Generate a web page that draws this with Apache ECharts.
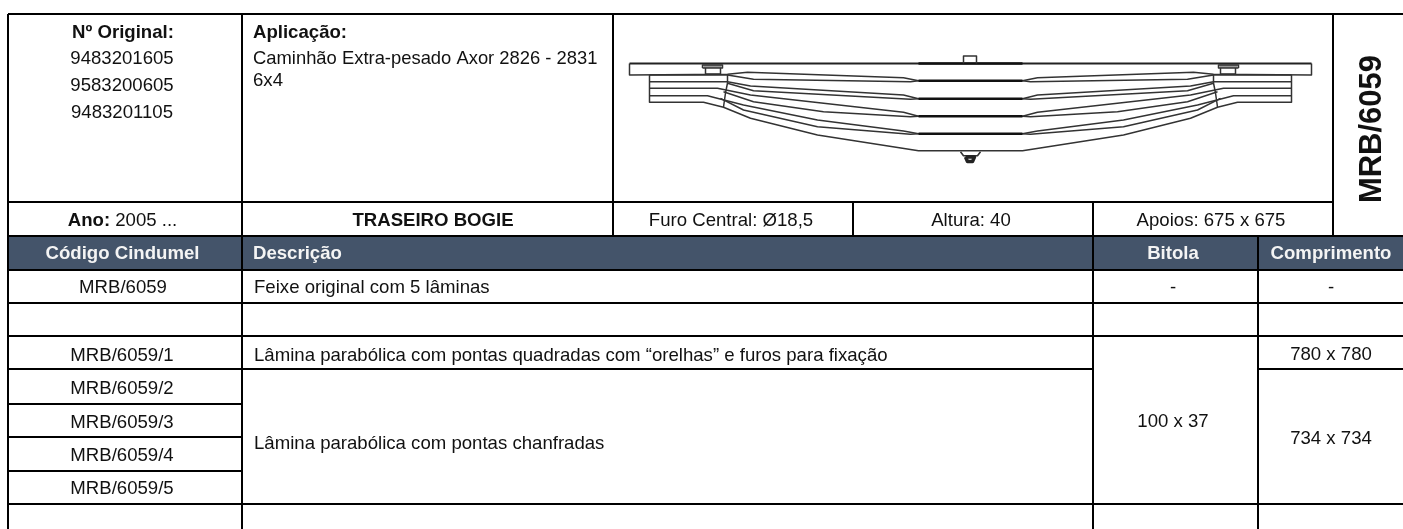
<!DOCTYPE html>
<html>
<head>
<meta charset="utf-8">
<title>MRB/6059</title>
<style>
  html, body { margin: 0; padding: 0; background: #fff; }
  #chart { width: 1403px; height: 529px; }
</style>
<script src="https://cdn.jsdelivr.net/npm/echarts@6/dist/echarts.min.js"></script>
</head>
<body>
<div id="chart"></div>
<script>
/* ── Table content ── */
const originalNumbers = ['9483201605', '9583200605', '9483201105'];
const applicationLines = ['Caminhão Extra-pesado Axor 2826 - 2831', '6x4'];
const partCode = 'MRB/6059';
const specs = ['Furo Central: Ø18,5', 'Altura: 40', 'Apoios: 675 x 675'];
const headers = ['Código Cindumel', 'Descrição', 'Bitola', 'Comprimento'];
const codes = ['MRB/6059', '', 'MRB/6059/1', 'MRB/6059/2', 'MRB/6059/3', 'MRB/6059/4', 'MRB/6059/5'];
const descriptions = [
    'Feixe original com 5 lâminas',
    'Lâmina parabólica com pontas quadradas com “orelhas” e furos para fixação',
    'Lâmina parabólica com pontas chanfradas',
];
const gauges = ['-', '100 x 37'];
const lengths = ['-', '780 x 780', '734 x 734'];

/* ── Spring profile: [distance from centre, depth], left side, mirrored when drawn ── */
const plateEdge = [[341, 13.5], [341, 25], [243, 24.3], [223, 22.3], [67, 27.7], [52, 30.7], [0, 30.7]];
const leaf2Top = [[321, 25], [243, 25], [217, 29.3], [60, 31.7], [52, 30.7]];
const leaf2Bottom = [[321, 31.7], [243, 31.7], [220, 36], [67, 45], [52, 48.7], [0, 48.7]];
const leaf3Top = [[243, 33.3], [217, 40.7], [60, 49.3], [52, 48.7]];
const leaf3Bottom = [[321, 38.3], [253, 38.3], [220, 45], [67, 62.3], [52, 66.3], [0, 66.3]];
const leaf4Top = [[247, 41.7], [217, 51.7], [147, 61.7], [60, 66.7], [52, 66.3]];
const leaf4Bottom = [[321, 45.7], [263, 45.7], [227, 55], [153, 70], [67, 81], [52, 83.7], [0, 83.7]];
const leaf5Top = [[250, 48.3], [227, 60], [153, 76.7], [60, 84.3], [52, 83.7]];
const leaf5Bottom = [[321, 25], [321, 52.3], [267, 52.3], [247, 57.3], [220, 68.3], [153, 85], [52, 100.7], [0, 100.7]];
const clipLine = [[243, 25], [243, 33], [245, 43], [247, 57]];
const boltHead = [[268, 18], [268, 15], [248, 15], [248, 18], [268, 18]];
const boltFill = [[267, 16.5], [249, 16.5]];
const boltStem = [[265, 18], [265, 24], [250, 24], [250, 18]];
const topPlateLine = [[341, 13.5], [0, 13.5]];
const centreBands = [[[52, 13.5], [0, 13.5]], [[52, 30.7], [0, 30.7]], [[52, 48.7], [0, 48.7]], [[52, 66.3], [0, 66.3]], [[52, 83.7], [0, 83.7]]];
const topBolt = [[-7, 13.5], [-7, 6], [6, 6], [6, 13.5]];
const nutWasher = [[-10, 101.7], [-7, 105.7], [7, 105.7], [10, 101.7]];
const nutBody = [[-5, 107], [-3, 111.5], [2, 111.5], [4, 107], [-5, 107]];
const profiles = [plateEdge, leaf2Top, leaf2Bottom, leaf3Top, leaf3Bottom, leaf4Top, leaf4Bottom, leaf5Top, leaf5Bottom, clipLine, boltHead, boltStem];

/* ── Table layout ── */
const COL = { a: 8, b: 242, c: 613, d: 853, e: 1093, f: 1258, g: 1333, end: 1403 };
const ROW = { top: 14, spec: 202, head: 236, body: 270, r1: 303, r2: 336, r3: 369, r4: 404, r5: 437, r6: 471, r7: 504, end: 529 };
const INK = '#111';
const HEADER_BG = '#44546A';
const FONT = '"Liberation Sans", Arial, sans-serif';
const TEXT_SIZE = 18.6;

const rules = [
    [COL.a, ROW.top, COL.end, ROW.top],
    [COL.a, ROW.spec, COL.g, ROW.spec],
    [COL.a, ROW.head, COL.end, ROW.head],
    [COL.a, ROW.body, COL.end, ROW.body],
    [COL.a, ROW.r1, COL.end, ROW.r1],
    [COL.a, ROW.r2, COL.end, ROW.r2],
    [COL.a, ROW.r3, COL.e, ROW.r3],
    [COL.f, ROW.r3, COL.end, ROW.r3],
    [COL.a, ROW.r4, COL.b, ROW.r4],
    [COL.a, ROW.r5, COL.b, ROW.r5],
    [COL.a, ROW.r6, COL.b, ROW.r6],
    [COL.a, ROW.r7, COL.end, ROW.r7],
    [COL.a, ROW.top, COL.a, ROW.end],
    [COL.b, ROW.top, COL.b, ROW.end],
    [COL.c, ROW.top, COL.c, ROW.head],
    [COL.d, ROW.spec, COL.d, ROW.head],
    [COL.e, ROW.spec, COL.e, ROW.end],
    [COL.f, ROW.head, COL.f, ROW.end],
    [COL.g, ROW.top, COL.g, ROW.head],
];

function label(x, y, text, opts) {
    return Object.assign({ x, y, text, align: 'center', bold: false, color: INK, size: TEXT_SIZE, rotate: 0 }, opts);
}
const LEFT = { align: 'left' };
const BOLD = { bold: true };
const WHITE_BOLD = { bold: true, color: '#f4f4f4' };

const labels = [
    label(123, 33, 'Nº Original:', BOLD),
    label(122, 59, originalNumbers[0]),
    label(122, 86, originalNumbers[1]),
    label(122, 113, originalNumbers[2]),
    label(253, 33, 'Aplicação:', Object.assign({}, BOLD, LEFT)),
    label(253, 59, applicationLines[0], { align: 'left', size: 18.4 }),
    label(253, 81, applicationLines[1], LEFT),
    label(1372, 129, partCode, { bold: true, size: 31, rotate: Math.PI / 2 }),
    label(731, 221, specs[0]),
    label(971, 221, specs[1]),
    label(1211, 221, specs[2]),
    label(433, 221, 'TRASEIRO BOGIE', BOLD),
    label(122.5, 254, headers[0], WHITE_BOLD),
    label(253, 254, headers[1], Object.assign({}, WHITE_BOLD, LEFT)),
    label(1173, 254, headers[2], WHITE_BOLD),
    label(1331, 254, headers[3], WHITE_BOLD),
    label(123, 288, codes[0]),
    label(122, 356, codes[2]),
    label(122, 389, codes[3]),
    label(122, 423, codes[4]),
    label(122, 456, codes[5]),
    label(122, 489, codes[6]),
    label(254, 288, descriptions[0], LEFT),
    label(254, 356, descriptions[1], LEFT),
    label(254, 444, descriptions[2], LEFT),
    label(1173, 288, gauges[0]),
    label(1173, 422, gauges[1]),
    label(1331, 288, lengths[0]),
    label(1331, 355, lengths[1]),
    label(1331, 439, lengths[2]),
];

// "Ano: 2005 ..." mixes bold and regular, so it uses rich text
const yearRow = { x: 122.5, y: 221 };

function mirrored(points) {
    const left = points.map(p => [-p[0], p[1]]);
    const right = points.map(p => [p[0], p[1]]).reverse();
    return left.concat(right);
}

function lineSeries(data, width, color) {
    return {
        type: 'line',
        xAxisIndex: 1,
        yAxisIndex: 1,
        data,
        showSymbol: false,
        silent: true,
        z: 3,
        lineStyle: { color: color || '#333', width: width || 1.5, join: 'round' },
    };
}

function splitProfile(points) {
    // keep the two halves apart when the profile does not reach the centre
    const reachesCentre = points[points.length - 1][0] === 0;
    if (reachesCentre) return [mirrored(points)];
    return [points.map(p => [-p[0], p[1]]), points.map(p => [p[0], p[1]])];
}

const springSeries = [];
splitProfile(boltFill).forEach(d => springSeries.push(lineSeries(d, 3, '#999')));
profiles.forEach(p => splitProfile(p).forEach(d => springSeries.push(lineSeries(d))));
springSeries.push(lineSeries(mirrored(topPlateLine), 1.8, '#222'));
centreBands.forEach(b => springSeries.push(lineSeries(mirrored(b), 2.6, '#111')));
springSeries.push(lineSeries(topBolt, 1.5));
springSeries.push(lineSeries(nutWasher, 1.6));
springSeries.push(lineSeries(nutBody, 3.5, '#222'));

const chart = echarts.init(document.getElementById('chart'), null, { renderer: 'canvas' });

chart.setOption({
    animation: false,
    backgroundColor: '#fff',
    grid: [
        { left: 0, top: 0, width: 1403, height: 529 },
        { left: 629, top: 50, width: 683, height: 120 },   // drawing cell
    ],
    xAxis: [
        { type: 'value', gridIndex: 0, min: 0, max: 1403, show: false },
        { type: 'value', gridIndex: 1, min: -341.5, max: 341.5, show: false },
    ],
    yAxis: [
        { type: 'value', gridIndex: 0, min: 0, max: 529, inverse: true, show: false },
        { type: 'value', gridIndex: 1, min: 0, max: 120, inverse: true, show: false },
    ],
    series: [
        {
            type: 'custom',
            silent: true,
            z: 1,
            clip: false,
            data: [[COL.a, ROW.head, COL.end, ROW.body]],
            encode: { x: [0, 2], y: [1, 3] },
            renderItem: (params, api) => {
                const p0 = api.coord([api.value(0), api.value(1)]);
                const p1 = api.coord([api.value(2), api.value(3)]);
                return { type: 'rect', shape: { x: p0[0], y: p0[1], width: p1[0] - p0[0], height: p1[1] - p0[1] }, style: { fill: HEADER_BG } };
            },
        },
        {
            type: 'custom',
            silent: true,
            z: 2,
            clip: false,
            data: rules,
            encode: { x: [0, 2], y: [1, 3] },
            renderItem: (params, api) => {
                const p0 = api.coord([api.value(0), api.value(1)]);
                const p1 = api.coord([api.value(2), api.value(3)]);
                return { type: 'line', shape: { x1: p0[0], y1: p0[1], x2: p1[0], y2: p1[1] }, style: { stroke: '#000', lineWidth: 2 } };
            },
        },
        {
            type: 'custom',
            silent: true,
            z: 4,
            clip: false,
            data: labels.map(l => [l.x, l.y]),
            encode: { x: 0, y: 1 },
            renderItem: (params, api) => {
                const l = labels[params.dataIndex];
                const p = api.coord([api.value(0), api.value(1)]);
                return {
                    type: 'text',
                    x: p[0],
                    y: p[1],
                    rotation: l.rotate,
                    style: {
                        text: l.text,
                        x: 0,
                        y: 0,
                        align: l.align,
                        verticalAlign: 'middle',
                        fill: l.color,
                        font: `${l.bold ? 'bold ' : ''}${l.size}px ${FONT}`,
                    },
                };
            },
        },
        {
            type: 'custom',
            silent: true,
            z: 4,
            clip: false,
            data: [[yearRow.x, yearRow.y]],
            encode: { x: 0, y: 1 },
            renderItem: (params, api) => {
                const p = api.coord([api.value(0), api.value(1)]);
                return {
                    type: 'text',
                    x: p[0],
                    y: p[1],
                    style: {
                        text: '{b|Ano:} {n|2005 ...}',
                        x: 0,
                        y: 0,
                        align: 'center',
                        verticalAlign: 'middle',
                        rich: {
                            b: { fontFamily: FONT, fontWeight: 'bold', fontSize: TEXT_SIZE, fill: INK },
                            n: { fontFamily: FONT, fontSize: TEXT_SIZE, fill: INK },
                        },
                        font: `${TEXT_SIZE}px ${FONT}`,
                        fill: INK,
                    },
                };
            },
        },
        ...springSeries,
    ],
});
</script>
</body>
</html>
